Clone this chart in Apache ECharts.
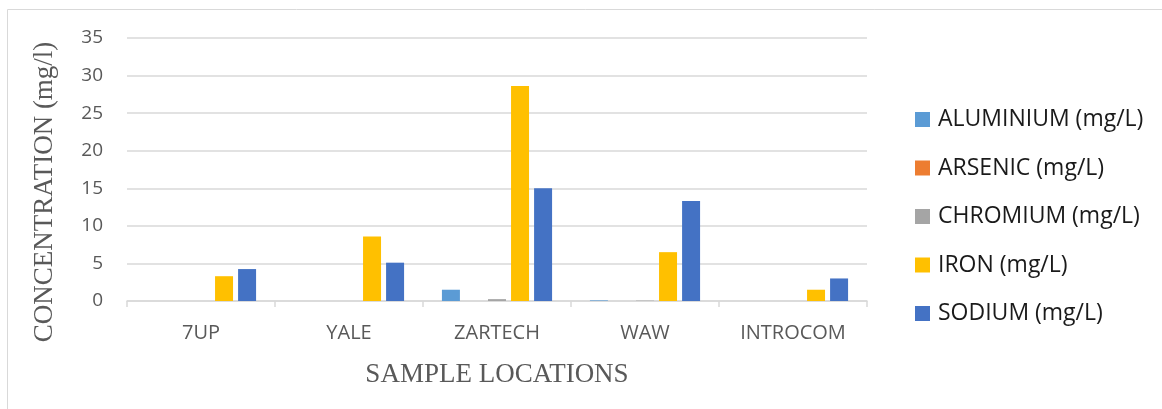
<!DOCTYPE html>
<html>
<head>
<meta charset="utf-8">
<script src="https://cdn.jsdelivr.net/npm/echarts@6/dist/echarts.min.js"></script>
<style>
  html, body { margin: 0; padding: 0; background: #fff; }
  #chart { width: 1162px; height: 409px; }
</style>
</head>
<body>
<div id="chart"></div>
<script>
const categories = ['7UP', 'YALE', 'ZARTECH', 'WAW', 'INTROCOM'];
const seriesNames = ['ALUMINIUM (mg/L)', 'ARSENIC (mg/L)', 'CHROMIUM (mg/L)', 'IRON (mg/L)', 'SODIUM (mg/L)'];
const aluminium = [0, 0, 1.5, 0.08, 0];
const arsenic = [0, 0, 0, 0, 0];
const chromium = [0, 0, 0.25, 0.05, 0];
const iron = [3.3, 8.6, 28.6, 6.5, 1.5];
const sodium = [4.25, 5.1, 15.0, 13.3, 3.0];
const yTicks = [0, 5, 10, 15, 20, 25, 30, 35];
const colors = ['#5B9BD5', '#ED7D31', '#A5A5A5', '#FFC000', '#4472C4'];

const values = [aluminium, arsenic, chromium, iron, sodium];

const chart = echarts.init(document.getElementById('chart'));

const option = {
    animation: false,
    color: colors,
    grid: {
        left: 127,
        right: 1162 - 867,
        top: 38,
        bottom: 409 - 301
    },
    legend: {
        orient: 'vertical',
        left: 910,
        top: 103,
        itemWidth: 15,
        itemHeight: 15,
        itemGap: 25.5,
        icon: 'rect',
        textStyle: {
            fontFamily: 'Open Sans',
            fontSize: 23,
            color: '#1a1a1a',
            padding: [0, 0, 0, 3]
        },
        data: seriesNames
    },
    xAxis: {
        type: 'category',
        data: categories,
        name: 'SAMPLE LOCATIONS',
        nameLocation: 'middle',
        nameGap: 60,
        nameTextStyle: {
            fontFamily: 'Liberation Serif',
            fontSize: 27,
            color: '#595959'
        },
        axisLine: { lineStyle: { color: '#D9D9D9', width: 1.5 } },
        axisTick: { show: true, length: 6, lineStyle: { color: '#D9D9D9', width: 1.5 } },
        axisLabel: {
            margin: 22,
            fontFamily: 'Open Sans',
            fontSize: 20,
            color: '#595959'
        }
    },
    yAxis: {
        type: 'value',
        min: yTicks[0],
        max: yTicks[yTicks.length - 1],
        interval: 5,
        axisLine: { show: false },
        axisTick: { show: false },
        splitLine: { lineStyle: { color: '#D9D9D9', width: 1.5 } },
        axisLabel: {
            margin: 24,
            fontFamily: 'Open Sans',
            fontSize: 19,
            color: '#595959'
        }
    },
    graphic: [
        {
            type: 'rect',
            shape: { x: 7.5, y: 9.5, width: 1160, height: 410 },
            style: { fill: 'none', stroke: '#D9D9D9', lineWidth: 1 },
            silent: true
        },
        {
            type: 'text',
            x: 45,
            y: 192,
            rotation: Math.PI / 2,
            style: {
                text: 'CONCENTRATION (mg/l)',
                fontFamily: 'Liberation Serif',
                fontSize: 27,
                fill: '#595959',
                textAlign: 'center',
                textVerticalAlign: 'middle'
            }
        }
    ],
    series: seriesNames.map((name, i) => ({
        name: name,
        type: 'bar',
        data: values[i],
        barWidth: 18,
        barGap: '28%',
        itemStyle: {
            color: colors[i]
        }
    }))
};

chart.setOption(option);
</script>
</body>
</html>
